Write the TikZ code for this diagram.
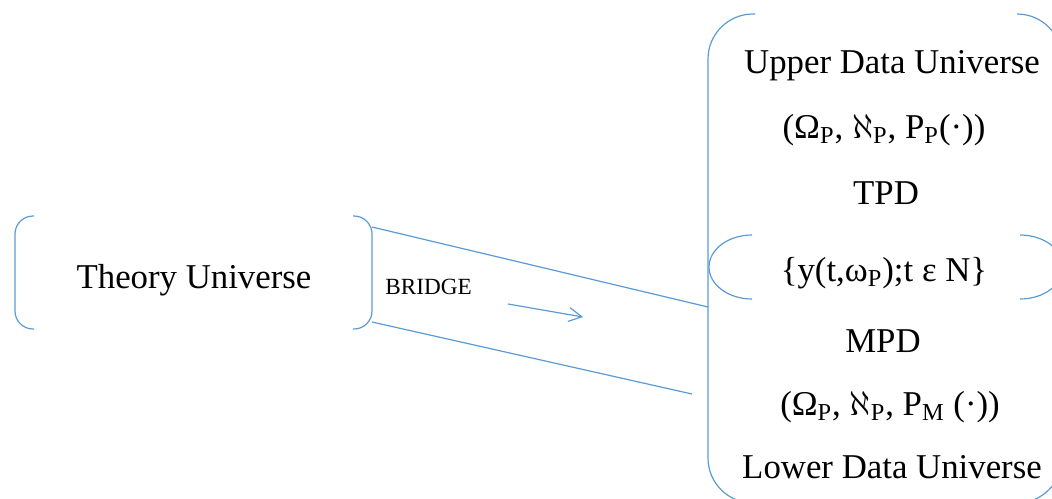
\documentclass[tikz,border=0pt]{standalone}
\usepackage{fontspec}
\setmainfont{Liberation Serif}
\usetikzlibrary{arrows.meta}
\definecolor{bracketblue}{RGB}{91,155,213}

\begin{document}
\begin{tikzpicture}[x=0.5pt,y=-0.5pt,>={Straight Barb[length=6.5pt,width=7pt]},
  bracket/.style={draw=bracketblue,line width=0.6pt},
  big text/.style={font=\fontsize{17.4}{20}\selectfont,inner sep=0pt,anchor=base},
  small text/.style={font=\fontsize{11.6}{14}\selectfont,inner sep=0pt,anchor=base west}]

  \useasboundingbox (0,0) rectangle (1052,498);

  % theory universe and its brackets
  \node[big text] (TU) at (194,288) {Theory Universe};
  \draw[bracket,rounded corners=9pt] (34,216) -| (15,329) -- (34,329);
  \draw[bracket,rounded corners=9pt] (353,216) -| (372,329) -- (353,329);

  % data universe, outer and inner brackets
  \draw[bracket,rounded corners=22.5pt] (755,14) -| (708,503) -- (755,503);
  \draw[bracket,rounded corners=22.5pt] (1017,14) -| (1062,503) -- (1017,503);
  \draw[bracket] (752,235) arc[start angle=90,end angle=270,x radius=21.5pt,y radius=16pt];
  \draw[bracket] (1020,235) arc[start angle=90,end angle=-90,x radius=21.5pt,y radius=16pt];

  \node[big text] (UDU) at (892,73) {Upper Data Universe};
  \node[big text] (UPS) at (884,138) {(Ω\textsubscript{P}, $\aleph$\textsubscript{P}, P\textsubscript{P}(·))};
  \node[big text] (TPD) at (886,204) {TPD};
  \node[big text] (PROC) at (884,281) {\{y(t,ω\textsubscript{P});t ε N\}};
  \node[big text] (MPD) at (883,352) {MPD};
  \node[big text] (LPS) at (890,415) {(Ω\textsubscript{P}, $\aleph$\textsubscript{P}, P\textsubscript{M} (·))};
  \node[big text] (LDU) at (892,478) {Lower Data Universe};

  % the bridge
  \coordinate (TUtop) at (372,227);
  \coordinate (TUbot) at (372,322);
  \coordinate (DUtop) at (708,307);
  \coordinate (DUbot) at (692,394);
  \coordinate (ARs) at (508,304);
  \coordinate (ARe) at (583,317);
  \node[small text] (BR) at (385,294) {BRIDGE};
  \draw[bracket] (TUtop) -- (DUtop);
  \draw[bracket] (TUbot) -- (DUbot);
  \draw[bracket,->] (ARs) -- (ARe);

\end{tikzpicture}
\end{document}
